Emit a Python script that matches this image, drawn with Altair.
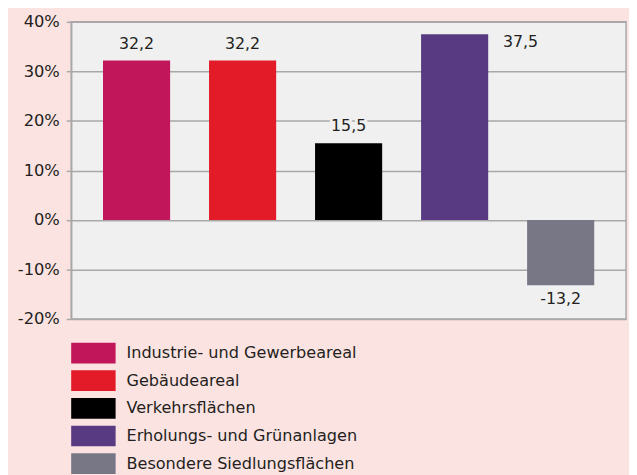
import altair as alt
import pandas as pd

categories = [
    "Industrie- und Gewerbeareal",
    "Gebäudeareal",
    "Verkehrsflächen",
    "Erholungs- und Grünanlagen",
    "Besondere Siedlungsflächen",
]
values = [32.2, 32.2, 15.5, 37.5, -13.2]
labels = ["32,2", "32,2", "15,5", "37,5", "-13,2"]
colors = ["#c1175a", "#e31a27", "#000000", "#573a81", "#777786"]
y_ticks = [-20, -10, 0, 10, 20, 30, 40]

FONT = "DejaVu Sans"
TXT = "#231f20"

df = pd.DataFrame({"cat": categories, "value": values, "label": labels})

x = alt.X("cat:N", sort=categories, axis=None,
          scale=alt.Scale(paddingInner=0.367, paddingOuter=0.3))
y = alt.Y("value:Q",
          scale=alt.Scale(domain=[-20, 40], nice=False),
          axis=alt.Axis(values=y_ticks, title=None, labelExpr="datum.value + '%'",
                        grid=True, gridColor="#a8a8a8", gridWidth=1.5,
                        domainColor="#a8a8a8", domainWidth=1.5,
                        tickColor="#a8a8a8", tickWidth=1.5, tickSize=5,
                        labelFont=FONT, labelFontSize=16.5, labelColor=TXT,
                        labelPadding=7))

bars = alt.Chart(df).mark_bar().encode(
    x=x, y=y,
    color=alt.Color("cat:N", sort=categories,
                    scale=alt.Scale(domain=categories, range=colors),
                    legend=alt.Legend(orient="none", legendX=0, legendY=325,
                                      title=None, direction="vertical",
                                      symbolType="M-1,-1H3.2857V1H-1Z",
                                      symbolSize=441, symbolStrokeWidth=0,
                                      symbolOpacity=1,
                                      labelFont=FONT, labelFontSize=16.3,
                                      labelColor=TXT, labelOffset=35,
                                      rowPadding=7, labelLimit=400)),
)

base = alt.Chart(df).encode(x=x, y=alt.Y("value:Q"), text="label:N")

pos = base.transform_filter("datum.value >= 0 && datum.value < 35")
halo = pos.mark_text(baseline="bottom", dy=-9, font=FONT, fontSize=16,
                     stroke="#f0f0f0", strokeWidth=6, color="#f0f0f0")
pos_txt = pos.mark_text(baseline="bottom", dy=-9, font=FONT, fontSize=16, color=TXT)
top_txt = base.transform_filter("datum.value >= 35").mark_text(
    align="left", baseline="top", dx=49, dy=0, font=FONT, fontSize=16, color=TXT)
neg_txt = base.transform_filter("datum.value < 0").mark_text(
    baseline="top", dy=6, font=FONT, fontSize=16, color=TXT)

chart = alt.layer(bars, halo, pos_txt, top_txt, neg_txt).properties(
    width=562, height=301,
    autosize=alt.AutoSizeParams(type="none"),
    padding={"left": 64, "top": 11, "right": 3, "bottom": 156},
    background="#fbe3e2",
).configure_view(fill="#f0f0f0", stroke="#a8a8a8", strokeWidth=1.5)

chart.save("out.html", embed_options={"renderer": "svg", "actions": False})
